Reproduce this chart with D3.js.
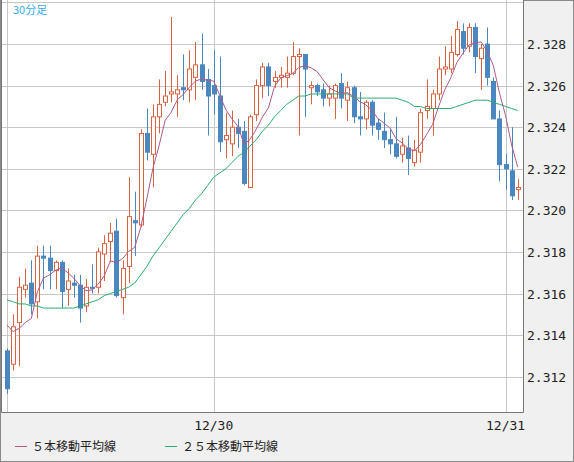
<!DOCTYPE html>
<html><head><meta charset="utf-8">
<script src="https://cdn.jsdelivr.net/npm/d3@7"></script>
<style>body{margin:0;background:#f0f0f0}svg{display:block}</style>
</head><body><svg id="c" width="574" height="462"></svg>
<script>
// OHLC, 30-minute candles
const opens  = [2.31324,2.3126,2.3146,2.3162,2.3165,2.3156,2.3178,2.3177,2.3171,2.3175,2.3162,2.3165,2.3164,2.3154,2.3163,2.3163,2.3179,2.3185,2.3190,2.3158,2.3173,2.3195,2.3193,2.3237,2.3227,2.3245,2.3252,2.3256,2.3256,2.3259,2.3258,2.3264,2.3270,2.3263,2.3260,2.3255,2.3234,2.3232,2.3240,2.3238,2.3211,2.3246,2.3260,2.3269,2.3262,2.3264,2.3264,2.3266,2.3274,2.3275,2.3259,2.3260,2.3258,2.3254,2.3254,2.3261,2.3253,2.3259,2.3245,2.3244,2.3252,2.3242,2.3238,2.3234,2.3232,2.3227,2.3230,2.3223,2.3228,2.3248,2.3249,2.3256,2.3268,2.3268,2.3275,2.3286,2.3279,2.3288,2.3273,2.3280,2.3262,2.3244,2.3222,2.3219,2.3210];
const highs  = [2.31335,2.3150,2.3168,2.3172,2.3176,2.3183,2.3183,2.3183,2.3176,2.3176,2.3172,2.3169,2.3169,2.3167,2.3174,2.3182,2.3188,2.3194,2.3196,2.3176,2.3216,2.3209,2.3239,2.3249,2.3251,2.3263,2.3267,2.3293,2.3265,2.3275,2.3277,2.3281,2.3285,2.3268,2.3277,2.3274,2.3247,2.3248,2.3244,2.3243,2.3246,2.3263,2.3271,2.3271,2.3267,2.3269,2.3274,2.3281,2.3278,2.3275,2.3262,2.3261,2.3261,2.3260,2.3261,2.3266,2.3262,2.3260,2.3257,2.3253,2.3253,2.3244,2.3247,2.3239,2.3245,2.3235,2.3236,2.3234,2.3249,2.3263,2.3258,2.3274,2.3279,2.3284,2.3291,2.3290,2.3290,2.3290,2.3280,2.3288,2.3264,2.3248,2.3227,2.3240,2.3215];
const lows   = [2.31118,2.3123,2.3125,2.3158,2.3150,2.3148,2.3162,2.3162,2.3162,2.3153,2.3154,2.3158,2.3146,2.3151,2.3160,2.3160,2.3166,2.3175,2.3158,2.3150,2.3165,2.3178,2.3192,2.3224,2.3211,2.3237,2.3250,2.3252,2.3245,2.3253,2.3252,2.3253,2.3258,2.3236,2.3246,2.3228,2.3225,2.3226,2.3230,2.3212,2.3211,2.3243,2.3254,2.3255,2.3259,2.3259,2.3259,2.3265,2.3236,2.3245,2.3251,2.3255,2.3250,2.3250,2.3244,2.3249,2.3243,2.3242,2.3236,2.3239,2.3236,2.3234,2.3230,2.3227,2.3225,2.3223,2.3217,2.3221,2.3223,2.3244,2.3236,2.3253,2.3265,2.3266,2.3274,2.3275,2.3276,2.3266,2.3258,2.3260,2.3244,2.3214,2.3210,2.3205,2.3205];
const closes = [2.31142,2.3144,2.3163,2.3164,2.3155,2.3178,2.3177,2.3171,2.3175,2.3161,2.3166,2.3164,2.3153,2.3163,2.31625,2.3180,2.3184,2.3189,2.3159,2.3172,2.3197,2.3194,2.3237,2.3228,2.3245,2.3251,2.3255,2.3257,2.3258,2.3258,2.3268,2.3270,2.3262,2.3255,2.3256,2.3233,2.3236,2.3240,2.3237,2.3213,2.3245,2.3260,2.3269,2.3260,2.3264,2.3265,2.3266,2.3274,2.3275,2.3268,2.3260,2.3257,2.3254,2.3256,2.3260,2.3254,2.3259,2.3245,2.3244,2.3252,2.3241,2.3239,2.3234,2.3232,2.3226,2.3231,2.3225,2.3229,2.3247,2.3250,2.3256,2.3268,2.3269,2.3276,2.3287,2.3278,2.3288,2.3274,2.3278,2.3264,2.3244,2.3222,2.3220,2.3207,2.3211];
const priorCloses = [2.3160, 2.3155, 2.3150, 2.3145];
// 25-period MA (pixel-estimated)
const ma25 = [2.3157,2.3156,2.3155,2.3155,2.3154,2.3154,2.3153,2.3153,2.3153,2.3153,2.3153,2.3153,2.3154,2.3155,2.3156,2.3157,2.3159,2.3160,2.3161,2.3162,2.3163,2.3165,2.3169,2.3173,2.3178,2.3182,2.3186,2.3190,2.3194,2.3198,2.3201,2.3205,2.3208,2.3212,2.3216,2.3218,2.3220,2.3223,2.3226,2.3228,2.3231,2.3234,2.3238,2.3241,2.3245,2.3248,2.3251,2.3253,2.3255,2.3255,2.3256,2.3256,2.3256,2.3256,2.3256,2.3256,2.3256,2.3254,2.3254,2.3254,2.3254,2.3254,2.3254,2.3254,2.3254,2.3253,2.3252,2.3250,2.3250,2.3249,2.3249,2.3249,2.3249,2.3249,2.3250,2.3251,2.3252,2.3253,2.3253,2.3253,2.3252,2.3251,2.3250,2.3249,2.3248];
const yTicks = [2.312,2.314,2.316,2.318,2.320,2.322,2.324,2.326,2.328,2.330];
const xLabels = [{i:34,t:"12/30"},{i:82,t:"12/31"}];

const svg = d3.select('#c');
const plot = {l:1, t:0, r:523, b:412};

const x = d3.scaleLinear().domain([0, 1]).range([7, 13.08]);
const y = d3.scaleLinear().domain([2.3103, 2.33012]).range([plot.b, plot.t]);

svg.append('rect').attr('x',0.5).attr('y',0.5).attr('width',573).attr('height',461)
    .attr('fill','#f0f0f0').attr('stroke','#8a8a8a');
svg.append('rect').attr('x',plot.l).attr('y',plot.t).attr('width',plot.r-plot.l).attr('height',plot.b-plot.t)
    .attr('fill','#fff');

// grid
svg.selectAll('line.hg').data(yTicks).join('line')
    .attr('x1',plot.l).attr('x2',plot.r)
    .attr('y1',d=>Math.round(y(d))+0.5).attr('y2',d=>Math.round(y(d))+0.5)
    .attr('stroke','#c8c8c8');
svg.selectAll('line.vg').data([{i:0}].concat(xLabels)).join('line')
    .attr('x1',d=>Math.round(x(d.i))+0.5).attr('x2',d=>Math.round(x(d.i))+0.5)
    .attr('y1',plot.t).attr('y2',plot.b).attr('stroke','#c8c8c8');

// frame
svg.append('path')
    .attr('d',`M${plot.l+0.5},${plot.t}V${plot.b+0.5}H${plot.r+0.5}V${plot.t}`)
    .attr('fill','none').attr('stroke','#777');

// axis labels
svg.selectAll('text.yl').data(yTicks.filter(d=>d<2.33)).join('text')
    .attr('x',527).attr('y',d=>y(d)+5)
    .attr('font-family','DejaVu Sans Mono').attr('font-size',13).attr('fill','#222')
    .text(d=>d.toFixed(3));
svg.selectAll('text.xl').data(xLabels).join('text')
    .attr('x',d=>x(d.i)).attr('y',430).attr('text-anchor','middle')
    .attr('font-family','DejaVu Sans Mono').attr('font-size',13).attr('fill','#222')
    .text(d=>d.t);

// candles
const up = '#d9623f', down = '#4a86c0';
const idx = d3.range(closes.length);
const g = svg.append('g');
g.selectAll('line.wick').data(idx).join('line')
    .attr('x1',i=>Math.round(x(i))+0.5).attr('x2',i=>Math.round(x(i))+0.5)
    .attr('y1',i=>y(highs[i])).attr('y2',i=>y(lows[i]))
    .attr('stroke',i=>closes[i]>=opens[i]?up:down);
g.selectAll('rect.body').data(idx).join('rect')
    .attr('x',i=>Math.round(x(i))-2+0.5)
    .attr('y',i=>y(Math.max(opens[i],closes[i])))
    .attr('width',4)
    .attr('height',i=>Math.max(1,Math.abs(y(opens[i])-y(closes[i]))))
    .attr('fill',i=>closes[i]>=opens[i]?'#fff':down)
    .attr('stroke',i=>closes[i]>=opens[i]?up:down);

// moving averages
const all = priorCloses.concat(closes);
const ma5 = idx.map(i=>d3.mean(all.slice(i, i+5)));
const line = d3.line().x((d,i)=>x(i)).y(d=>y(d));
svg.append('path').attr('d',line(ma25)).attr('fill','none').attr('stroke','#2aad6c').attr('stroke-width',1);
svg.append('path').attr('d',line(ma5)).attr('fill','none').attr('stroke','#b05a8a').attr('stroke-width',1);

svg.append('text').attr('x',13).attr('y',14).attr('font-family','Noto Sans CJK JP')
    .attr('font-size',11).attr('fill','#33aaee').text('30分足');

// legend
const legend = [{t:'５本移動平均線',c:'#b05a8a',x:15},{t:'２５本移動平均線',c:'#2aad6c',x:165}];
svg.selectAll('line.lg').data(legend).join('line')
    .attr('x1',d=>d.x).attr('x2',d=>d.x+12).attr('y1',446.5).attr('y2',446.5).attr('stroke',d=>d.c);
svg.selectAll('text.lg').data(legend).join('text')
    .attr('x',d=>d.x+17).attr('y',451).attr('font-family','Noto Sans CJK JP')
    .attr('font-size',12).attr('fill','#222').text(d=>d.t);
</script></body></html>
